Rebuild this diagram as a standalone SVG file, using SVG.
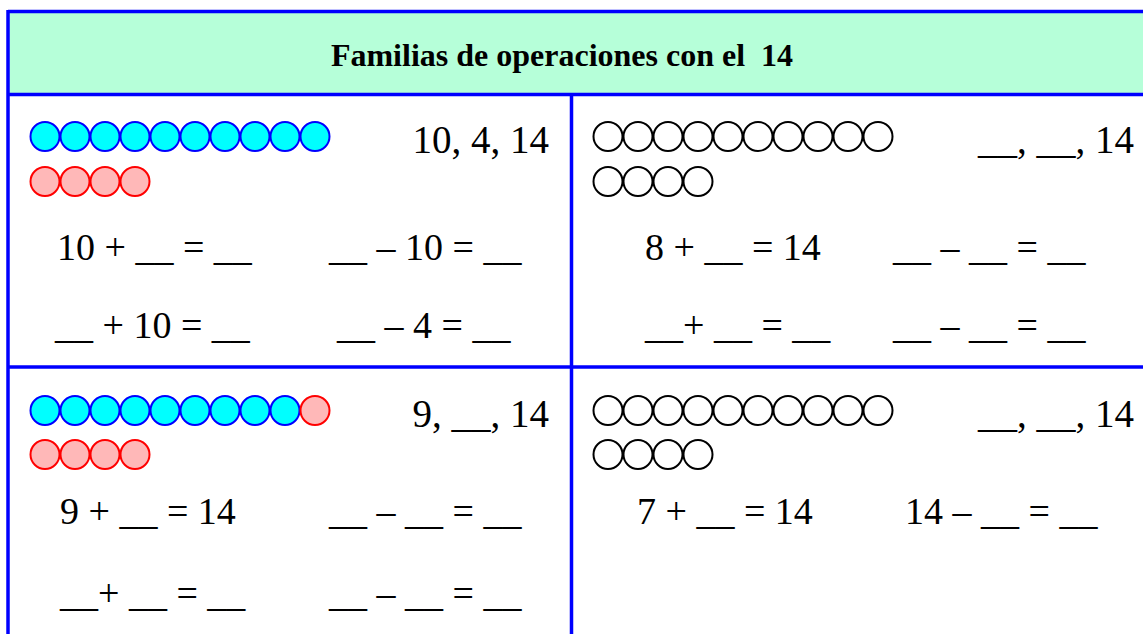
<svg xmlns="http://www.w3.org/2000/svg" width="1143" height="634" viewBox="0 0 1143 634">
<style>
.t{font-family:"Liberation Serif","Times New Roman",serif;font-size:38px;fill:#000}
.n{font-family:"Liberation Serif","Times New Roman",serif;font-size:39px;fill:#000}
.h{font-family:"Liberation Serif","Times New Roman",serif;font-size:32px;font-weight:bold;fill:#000}
.bl{stroke:#0000FF;stroke-width:3.5;fill:none}
.cy{fill:#00FFFF;stroke:#0000FF;stroke-width:2}
.pk{fill:#FFB8B8;stroke:#FF0000;stroke-width:2}
.wh{fill:#FFFFFF;stroke:#000000;stroke-width:2}
</style>
<rect x="8" y="12" width="1135" height="83" fill="#B6FFD9"/>
<g id="grid">
<line class="bl" x1="8" y1="11.5" x2="1143" y2="11.5"/>
<line class="bl" x1="8" y1="94.5" x2="1143" y2="94.5"/>
<line class="bl" x1="8" y1="367" x2="1143" y2="367"/>
<line class="bl" x1="8" y1="10" x2="8" y2="634"/>
<line class="bl" x1="571.5" y1="95" x2="571.5" y2="634"/>
</g>
<g id="header">
<text class="h" x="562" y="66" text-anchor="middle" xml:space="preserve">Familias de operaciones con el  14</text>
</g>
<g id="cell-top-left">
<g class="cy">
<circle cx="45" cy="136.5" r="14.5"/><circle cx="75" cy="136.5" r="14.5"/><circle cx="105" cy="136.5" r="14.5"/><circle cx="135" cy="136.5" r="14.5"/><circle cx="165" cy="136.5" r="14.5"/><circle cx="195" cy="136.5" r="14.5"/><circle cx="225" cy="136.5" r="14.5"/><circle cx="255" cy="136.5" r="14.5"/><circle cx="285" cy="136.5" r="14.5"/><circle cx="315" cy="136.5" r="14.5"/>
</g>
<g class="pk">
<circle cx="45" cy="181.5" r="14.5"/><circle cx="75" cy="181.5" r="14.5"/><circle cx="105" cy="181.5" r="14.5"/><circle cx="135" cy="181.5" r="14.5"/>
</g>
<text class="n" x="549" y="153" text-anchor="end">10, 4, 14</text>
<text class="t" x="57" y="260">10 + __ = __</text>
<text class="t" x="329" y="260">__ – 10 = __</text>
<text class="t" x="55" y="338">__ + 10 = __</text>
<text class="t" x="337" y="338">__ – 4 = __</text>
</g>
<g id="cell-top-right">
<g class="wh">
<circle cx="608" cy="136.5" r="14.5"/><circle cx="638" cy="136.5" r="14.5"/><circle cx="668" cy="136.5" r="14.5"/><circle cx="698" cy="136.5" r="14.5"/><circle cx="728" cy="136.5" r="14.5"/><circle cx="758" cy="136.5" r="14.5"/><circle cx="788" cy="136.5" r="14.5"/><circle cx="818" cy="136.5" r="14.5"/><circle cx="848" cy="136.5" r="14.5"/><circle cx="878" cy="136.5" r="14.5"/>
<circle cx="608" cy="181.5" r="14.5"/><circle cx="638" cy="181.5" r="14.5"/><circle cx="668" cy="181.5" r="14.5"/><circle cx="698" cy="181.5" r="14.5"/>
</g>
<text class="n" x="1134" y="153" text-anchor="end">__, __, 14</text>
<text class="t" x="645" y="260">8 + __ = 14</text>
<text class="t" x="893" y="260">__ – __ = __</text>
<text class="t" x="645" y="338">__+ __ = __</text>
<text class="t" x="893" y="338">__ – __ = __</text>
</g>
<g id="cell-bottom-left">
<g class="cy">
<circle cx="45" cy="410.5" r="14.5"/><circle cx="75" cy="410.5" r="14.5"/><circle cx="105" cy="410.5" r="14.5"/><circle cx="135" cy="410.5" r="14.5"/><circle cx="165" cy="410.5" r="14.5"/><circle cx="195" cy="410.5" r="14.5"/><circle cx="225" cy="410.5" r="14.5"/><circle cx="255" cy="410.5" r="14.5"/><circle cx="285" cy="410.5" r="14.5"/>
</g>
<g class="pk">
<circle cx="315" cy="410.5" r="14.5"/>
<circle cx="45" cy="454.5" r="14.5"/><circle cx="75" cy="454.5" r="14.5"/><circle cx="105" cy="454.5" r="14.5"/><circle cx="135" cy="454.5" r="14.5"/>
</g>
<text class="n" x="549" y="427" text-anchor="end">9, __, 14</text>
<text class="t" x="60" y="524">9 + __ = 14</text>
<text class="t" x="329" y="524">__ – __ = __</text>
<text class="t" x="60" y="606">__+ __ = __</text>
<text class="t" x="329" y="606">__ – __ = __</text>
</g>
<g id="cell-bottom-right">
<g class="wh">
<circle cx="608" cy="410.5" r="14.5"/><circle cx="638" cy="410.5" r="14.5"/><circle cx="668" cy="410.5" r="14.5"/><circle cx="698" cy="410.5" r="14.5"/><circle cx="728" cy="410.5" r="14.5"/><circle cx="758" cy="410.5" r="14.5"/><circle cx="788" cy="410.5" r="14.5"/><circle cx="818" cy="410.5" r="14.5"/><circle cx="848" cy="410.5" r="14.5"/><circle cx="878" cy="410.5" r="14.5"/>
<circle cx="608" cy="454.5" r="14.5"/><circle cx="638" cy="454.5" r="14.5"/><circle cx="668" cy="454.5" r="14.5"/><circle cx="698" cy="454.5" r="14.5"/>
</g>
<text class="n" x="1134" y="427" text-anchor="end">__, __, 14</text>
<text class="t" x="637" y="524">7 + __ = 14</text>
<text class="t" x="905" y="524">14 – __ = __</text>
</g>
</svg>
